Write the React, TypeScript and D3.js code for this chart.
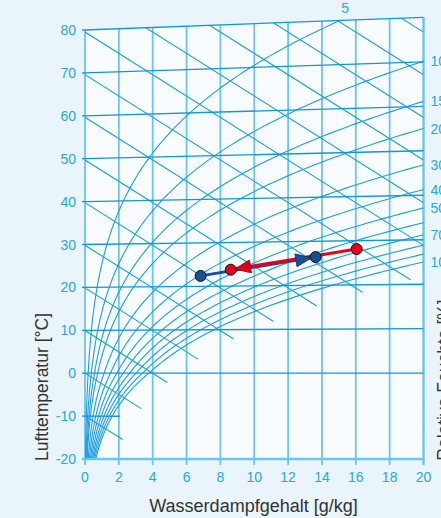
import React from 'react';
import * as d3 from 'd3';

// Mollier h,x-Diagramm mit zwei Zustandsänderungen
const W = 441;
const H = 518;
const PRESSURE = 101325;

const xTicks = [0, 2, 4, 6, 8, 10, 12, 14, 16, 18, 20];
const tempTicks = [-20, -10, 0, 10, 20, 30, 40, 50, 60, 70, 80];
const isotherms = [-10, 0, 10, 20, 30, 40, 50, 60, 70, 80];
const rhLevels = [5, 10, 15, 20, 30, 40, 50, 60, 70, 80, 90, 100];
const rhLabels = [5, 10, 15, 20, 30, 40, 50, 70, 100];
const enthalpies = [-10, 0, 10, 20, 30, 40, 50, 60, 70, 80, 90, 100, 110, 120, 130];

// Prozess 1 (blau) und Prozess 2 (rot): [g/kg, °C]
const blueProcess = [
  { x: 6.83, t: 22.4 },
  { x: 13.63, t: 26.4 },
];
const redProcess = [
  { x: 16.05, t: 28.1 },
  { x: 8.61, t: 23.75 },
];

const GRID = '#1c9fdc';
const GRID_LIGHT = '#6cc5ee';
const TICK = '#2aa8e0';
const FONT = "'Liberation Sans Narrow', 'Liberation Sans', Arial, sans-serif";
const TITLE_FONT = "'Liberation Sans', Arial, sans-serif";

const ps = (t: number) =>
  t >= 0
    ? 611.2 * Math.exp((17.62 * t) / (243.12 + t))
    : 611.2 * Math.exp((22.46 * t) / (272.62 + t));
const xAt = (t: number, phi: number) => {
  const p = phi * ps(t);
  return (622 * p) / (PRESSURE - p);
};
// schiefwinklige Ordinate (0 °C Isotherme waagerecht)
const vOf = (t: number, x: number) => 1.006 * t + 0.00186 * t * x;
const hOf = (t: number, x: number) => 1.006 * t + x * (2.501 + 0.00186 * t);

const bisect = (f: (t: number) => number, lo: number, hi: number) => {
  for (let i = 0; i < 60; i++) {
    const mid = (lo + hi) / 2;
    if (f(mid) > 0) hi = mid;
    else lo = mid;
  }
  return (lo + hi) / 2;
};

const xScale = d3.scaleLinear().domain([0, 20]).range([85, 423.5]);
const vScale = d3.scaleLinear().domain([vOf(-20, 0), vOf(80, 0)]).range([459, 30]);
const pt = (x: number, t: number): [number, number] => [xScale(x), vScale(vOf(t, x))];

const line = d3.line<[number, number]>();

const App = () => {
  const yBottom = vScale(vOf(-20, 0));
  const plotArea: [number, number][] = [
    [xScale(0), yBottom],
    [xScale(20), yBottom],
    pt(20, 80),
    pt(0, 80),
  ];

  const rhCurves = rhLevels.map((rh) => {
    const phi = rh / 100;
    const pts: [number, number][] = [];
    for (let t = -20; t <= 80.001; t += 0.5) {
      const x = xAt(t, phi);
      pts.push(pt(x, t));
      if (x > 20) break;
    }
    return { rh, d: line(pts) };
  });

  const labelPos = rhLabels.map((rh) => {
    const phi = rh / 100;
    if (xAt(80, phi) < 20) {
      const [px, py] = pt(xAt(80, phi), 80);
      return { rh, x: px + 5, y: py - 12, anchor: 'middle' };
    }
    const t = bisect((tt) => xAt(tt, phi) - 20, -20, 80);
    const [, py] = pt(20, t);
    return { rh, x: xScale(20) + 7, y: py, anchor: 'start' };
  });

  const isenthalps = enthalpies.map((h) => {
    const tSat = bisect((tt) => hOf(tt, xAt(tt, 1)) - h, -40, 80);
    const xEnd = Math.min(20, xAt(tSat, 1) + 1);
    const a: [number, number] = [xScale(0), vScale(h)];
    const b: [number, number] = [xScale(xEnd), vScale(h - 2.501 * xEnd)];
    return { h, d: line([a, b]) };
  });

  const isothermLines = isotherms.map((t) => {
    const xEnd = t < 0 ? xAt(t, 1) + 0.45 : 20;
    return { t, d: line([pt(0, t), pt(xEnd, t)]) };
  });

  const arrowHead = (from: { x: number; t: number }, to: { x: number; t: number }) => {
    const [x0, y0] = pt(from.x, from.t);
    const [x1, y1] = pt(to.x, to.t);
    const ang = Math.atan2(y1 - y0, x1 - x0);
    const ux = Math.cos(ang);
    const uy = Math.sin(ang);
    const tipX = x1 - ux * 4;
    const tipY = y1 - uy * 4;
    const bx = tipX - ux * 16;
    const by = tipY - uy * 16;
    const w = 6.5;
    return `M${tipX},${tipY}L${bx - uy * w},${by + ux * w}L${bx + uy * w},${by - ux * w}Z`;
  };

  const procLine = (p: { x: number; t: number }[]) => line(p.map((d) => pt(d.x, d.t)));

  return (
    <svg width={W} height={H} style={{ position: 'absolute', left: 0, top: 0 }}>
      <defs>
        <clipPath id="plot-clip">
          <polygon points={plotArea.map((p) => p.join(',')).join(' ')} />
        </clipPath>
      </defs>
      <rect width={W} height={H} fill="#e9f4fb" />
      <text x={40} y={-4} fontFamily={TITLE_FONT} fontSize={19} fontWeight="bold" fill="#111">
        Regelung gegen Energieverlust
      </text>

      <polygon points={plotArea.map((p) => p.join(',')).join(' ')} fill="#f8fcfe" />

      {/* vertikale Gitterlinien */}
      {xTicks.map((x) => (
        <line
          key={`vx${x}`}
          x1={xScale(x)}
          x2={xScale(x)}
          y1={yBottom + 6}
          y2={pt(x, 80)[1]}
          stroke={GRID_LIGHT}
          strokeWidth={x === 20 ? 2.4 : 1.8}
        />
      ))}

      <g clipPath="url(#plot-clip)" fill="none">
        {isenthalps.map((d) => (
          <path key={`h${d.h}`} d={d.d ?? ''} stroke={GRID} strokeWidth={1.1} />
        ))}
        {rhCurves.map((c) => (
          <path key={`rh${c.rh}`} d={c.d ?? ''} stroke={GRID} strokeWidth={1.1} />
        ))}
      </g>

      {/* Isothermen */}
      {isothermLines.map((d) => (
        <path key={`t${d.t}`} d={d.d ?? ''} stroke="#0f97d6" strokeWidth={1.3} fill="none" />
      ))}
      {tempTicks.map((t) => (
        <line
          key={`tk${t}`}
          x1={xScale(0) - 3}
          x2={xScale(0)}
          y1={vScale(vOf(t, 0))}
          y2={vScale(vOf(t, 0))}
          stroke="#0f97d6"
          strokeWidth={1.3}
        />
      ))}
      <line x1={xScale(0) - 3} x2={xScale(20)} y1={yBottom} y2={yBottom} stroke={GRID_LIGHT} strokeWidth={2.6} />

      {/* Achsenbeschriftung */}
      {tempTicks.map((t) => (
        <text
          key={`tl${t}`}
          x={76}
          y={vScale(vOf(t, 0))}
          dy="0.36em"
          textAnchor="end"
          fontFamily={FONT}
          fontSize={14}
          fill={TICK}
        >
          {t}
        </text>
      ))}
      {xTicks.map((x) => (
        <text
          key={`xl${x}`}
          x={xScale(x)}
          y={482}
          textAnchor="middle"
          fontFamily={FONT}
          fontSize={14}
          fill={TICK}
        >
          {x}
        </text>
      ))}
      {labelPos.map((l) => (
        <text
          key={`rl${l.rh}`}
          x={l.x}
          y={l.y}
          dy="0.36em"
          textAnchor={l.anchor}
          fontFamily={FONT}
          fontSize={14}
          fill={TICK}
        >
          {l.rh}
        </text>
      ))}

      <text x={253.5} y={512} textAnchor="middle" fontFamily={TITLE_FONT} fontSize={18} fill="#333">
        Wasserdampfgehalt [g/kg]
      </text>
      <text
        transform="translate(48,387) rotate(-90)"
        textAnchor="middle"
        fontFamily={TITLE_FONT}
        fontSize={17.5}
        fill="#333"
      >
        Lufttemperatur [°C]
      </text>
      <text
        transform="translate(450,380) rotate(-90)"
        textAnchor="middle"
        fontFamily={TITLE_FONT}
        fontSize={17.5}
        fill="#333"
      >
        Relative Feuchte [%]
      </text>

      {/* Zustandsänderungen */}
      <path d={procLine(blueProcess) ?? ''} stroke="#17509a" strokeWidth={3} fill="none" />
      <path d={procLine(redProcess) ?? ''} stroke="#e2001a" strokeWidth={3} fill="none" />
      <path d={arrowHead(blueProcess[0], blueProcess[1])} fill="#17509a" stroke="#0c2c55" strokeWidth={0.8} />
      <path d={arrowHead(redProcess[0], redProcess[1])} fill="#e2001a" stroke="#7a000e" strokeWidth={0.8} />
      {blueProcess.map((d, i) => (
        <circle key={`bp${i}`} cx={pt(d.x, d.t)[0]} cy={pt(d.x, d.t)[1]} r={5.5} fill="#17509a" stroke="#111" strokeWidth={1} />
      ))}
      {redProcess.map((d, i) => (
        <circle key={`rp${i}`} cx={pt(d.x, d.t)[0]} cy={pt(d.x, d.t)[1]} r={5.5} fill="#e2001a" stroke="#111" strokeWidth={1} />
      ))}
    </svg>
  );
};

export default App;
